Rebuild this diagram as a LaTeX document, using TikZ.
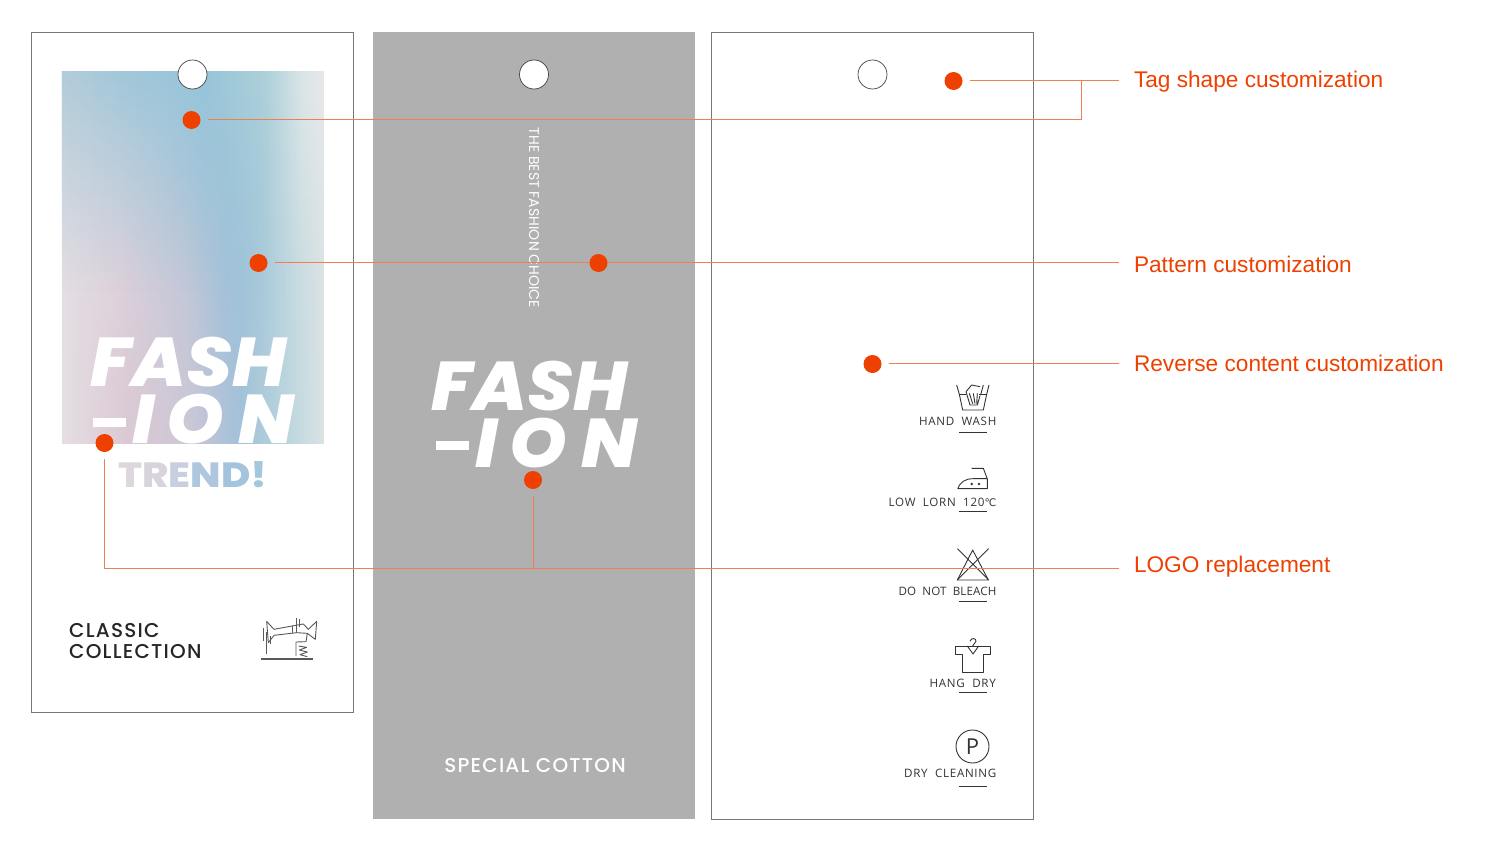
\documentclass[tikz,border=0pt]{standalone}
\usepackage{fontspec}
\usepackage{tikz}
\usetikzlibrary{fadings}
\setmainfont{Liberation Sans}
\newfontfamily\logofont{Poppins}
\newfontfamily\mediumfont{Poppins Medium}
\newfontfamily\heavyfont[ItalicFont={Poppins ExtraBold Italic},FakeStretch=1.06]{Poppins ExtraBold}
\newfontfamily\trendfont[FakeStretch=1.14]{Poppins ExtraBold}
\newfontfamily\careFont{Open Sans}
\newfontfamily\symbolFont{DejaVu Sans}
\definecolor{dotred}{HTML}{EE4000}
\definecolor{lineorange}{HTML}{EE7F55}
\definecolor{taggray}{HTML}{B0B0B0}
\definecolor{tagedge}{HTML}{777777}
\definecolor{inkgray}{HTML}{333333}
\pgfdeclarehorizontalshading{gradTop}{100bp}{rgb(0bp)=(0.70,0.80,0.85);rgb(25bp)=(0.70,0.80,0.85);rgb(37bp)=(0.63,0.78,0.85);rgb(52bp)=(0.59,0.77,0.85);rgb(64bp)=(0.68,0.82,0.85);rgb(71bp)=(0.86,0.90,0.91);rgb(75bp)=(0.91,0.91,0.92);rgb(100bp)=(0.91,0.91,0.92)}
\pgfdeclarehorizontalshading{gradMid}{100bp}{rgb(0bp)=(0.89,0.87,0.89);rgb(25bp)=(0.89,0.87,0.89);rgb(36bp)=(0.87,0.85,0.89);rgb(46bp)=(0.74,0.80,0.86);rgb(56bp)=(0.59,0.75,0.85);rgb(63bp)=(0.64,0.78,0.85);rgb(70bp)=(0.80,0.87,0.89);rgb(75bp)=(0.86,0.89,0.90);rgb(100bp)=(0.86,0.89,0.90)}
\pgfdeclarehorizontalshading{gradLow}{100bp}{rgb(0bp)=(0.90,0.87,0.89);rgb(25bp)=(0.90,0.87,0.89);rgb(37bp)=(0.86,0.79,0.83);rgb(49bp)=(0.81,0.78,0.84);rgb(59bp)=(0.64,0.76,0.85);rgb(67bp)=(0.72,0.83,0.87);rgb(75bp)=(0.85,0.89,0.89);rgb(100bp)=(0.85,0.89,0.89)}
\tikzfading[name=fadeTop, top color=transparent!0, bottom color=transparent!100]
\tikzfading[name=fadeMid, top color=transparent!0, middle color=transparent!0, bottom color=transparent!100]
\tikzset{
  tagbox/.style={draw=tagedge, line width=0.9pt, fill=white, anchor=north west, inner sep=0pt},
  holemark/.style={circle, draw=black!75, line width=0.7pt, fill=white, minimum size=29pt, inner sep=0pt},
  dotmark/.style={circle, fill=dotred, minimum size=18pt, inner sep=0pt, outer sep=7pt},
  leader/.style={draw=lineorange, line width=1pt},
  calllabel/.style={anchor=west, text=dotred, inner sep=0pt, outer xsep=0pt, inner xsep=15pt, font=\fontsize{22.65}{26}\selectfont},
  logotext/.style={text=white, inner sep=0pt, anchor=base west, font=\fontsize{69}{70}\selectfont\heavyfont\itshape},
  caretext/.style={anchor=base east, inner sep=0pt, text=inkgray, font=\fontsize{11.6}{14}\selectfont\careFont\addfontfeatures{LetterSpace=6}},
  iconline/.style={draw=inkgray, line width=0.9pt, line join=round},
  careunder/.style={draw=inkgray, line width=1pt},
}
\begin{document}
\begin{tikzpicture}[x=1pt, y=-1pt]
\useasboundingbox (0,0) rectangle (1488,846);
% tags
\node[tagbox, minimum width=322pt, minimum height=680pt] (tagFront) at (31,32) {};
\node[tagbox, draw=none, fill=taggray, minimum width=322pt, minimum height=787pt] (tagMiddle) at (373,32) {};
\node[tagbox, minimum width=322pt, minimum height=787pt] (tagBack) at (711,32) {};
% gradient panel
\path[shading=gradLow] (62,71) rectangle (323.5,443);
\path[shading=gradMid, path fading=fadeMid, fit fading=true] (62,71) rectangle (323.5,443);
\path[shading=gradTop, path fading=fadeTop, fit fading=true] (62,71) rectangle (323.5,290);
% holes
\node[holemark] (holeFront) at (192.5,74.5) {};
\node[holemark] (holeMiddle) at (534,74.5) {};
\node[holemark] (holeBack) at (872.5,74.5) {};
% front
\node[logotext] (fashFront) at (90,386.5) {FASH};
\node[logotext] (ionFront) at (93,443.5) {\rule[17pt]{33pt}{9pt}\hspace{6pt}I\hspace{12pt}O\hspace{14pt}N};
\node[inner sep=0pt, anchor=base west, font=\fontsize{35}{40}\selectfont\trendfont] (trendFront) at (118,487)
  {\addfontfeatures{LetterSpace=3}\textcolor[HTML]{DDD6DC}{T}\textcolor[HTML]{D8D4DE}{R}\textcolor[HTML]{C8D0DF}{E}\textcolor[HTML]{AFC7DE}{N}\textcolor[HTML]{A4C3DD}{D}\textcolor[HTML]{A3C7DC}{!}};
\node[anchor=west, inner sep=0pt, align=left, text=black!85, font=\fontsize{20}{21.8}\selectfont\mediumfont\addfontfeatures{LetterSpace=6}] (classicFront) at (69,641) {CLASSIC\\COLLECTION};
% sewing machine
\begin{scope}[shift={(50,600)}, scale=1/3]
\draw[iconline, draw=black!65] (650,64) -- (672,88) -- (726,78) -- (760,72) -- (775,88) -- (800,64) -- (796,118) -- (772,100) -- (740,98) -- (672,106) -- (655,128) -- cycle;
\draw[iconline, draw=black!65] (640,84) -- (640,122) (650,96) -- (650,162) (660,108) -- (660,132) (726,78) -- (726,98) (740,55) -- (740,98) (748,58) -- (748,82);
\draw[iconline, draw=black!65] (772,100) -- (768,125) -- (738,126) -- (738,168) (746,138) -- (770,142) -- (748,150) -- (772,156) -- (750,164) -- (772,170);
\draw[iconline, draw=black!65, line width=1.5pt] (632,177) -- (790,177);
\end{scope}
% middle
\node[rotate=-90, text=white, inner sep=0pt, font=\fontsize{14.1}{15}\selectfont\logofont] (sloganMiddle) at (534,218) {THE BEST FASHION CHOICE};
\node[logotext] (fashMiddle) at (431,410) {FASH};
\node[logotext] (ionMiddle) at (436,467) {\rule[17pt]{33pt}{9pt}\hspace{6pt}I\hspace{12pt}O\hspace{14pt}N};
\node[text=white, inner sep=0pt, font=\fontsize{20}{22}\selectfont\mediumfont\addfontfeatures{LetterSpace=6}] (cottonMiddle) at (535,765.5) {SPECIAL COTTON};
% back
\node[caretext] (handBack) at (996.5,425.5) {HAND\ \ WASH};
\node[caretext] (lowBack) at (996.5,506) {LOW\ \ LORN\ \ 120{\symbolFont\addfontfeatures{LetterSpace=0}\fontsize{10.5}{10}\selectfont ℃}};
\node[caretext] (bleachBack) at (996.5,595.5) {\addfontfeatures{LetterSpace=1}DO\ \ NOT\ \ BLEACH};
\node[caretext] (hangBack) at (996,687) {HANG\ \ DRY};
\node[caretext] (dryBack) at (996.5,777.5) {DRY\ \ CLEANING};
\coordinate (underA) at (959,432); \coordinate (underAe) at (987,432);
\coordinate (underB) at (959,511.5); \coordinate (underBe) at (987,511.5);
\coordinate (underC) at (959,601); \coordinate (underCe) at (987,601);
\coordinate (underD) at (959,692); \coordinate (underDe) at (987,692);
\coordinate (underE) at (959,786); \coordinate (underEe) at (987,786);
\foreach \a/\b in {underA/underAe,underB/underBe,underC/underCe,underD/underDe,underE/underEe}
  \draw[careunder] (\a) -- (\b);
% care icons
\begin{scope}[shift={(880,375)}, scale=1/3]
\draw[iconline] (230,30) -- (238,58) -- (248,105) -- (310,105) -- (320,58) -- (327,30);
\draw[iconline] (238,58) -- (258,58) (298,58) -- (320,58);
\draw[iconline] (258,50) -- (275,30) -- (300,35) (258,50) -- (270,90) -- (292,90) -- (300,62) (268,55) -- (278,86) (280,55) -- (285,86) (292,55) -- (290,86) (310,30) -- (302,60);
\draw[iconline] (233,341) -- (322,341) -- (322,312) -- (310,280) -- (275,280) (233,341) .. controls (240,322) and (255,311) .. (280,311) -- (322,311);
\fill[inkgray] (275,327) circle (4) (297,327) circle (4);
\draw[iconline] (278,525) -- (232,615) -- (325,615) -- cycle;
\draw[iconline] (232,521) -- (326,615) (326,521) -- (232,615);
\end{scope}
\begin{scope}[shift={(880,630)}, scale=1/3]
\draw[iconline] (225,48) -- (330,48) -- (330,73) -- (310,73) -- (310,128) -- (247,128) -- (247,73) -- (225,73) -- cycle;
\draw[iconline] (262,48) -- (279,72) -- (296,48) (270,34) .. controls (272,22) and (290,24) .. (288,34) -- (278,48);
\end{scope}
\node[circle, draw=inkgray, line width=0.9pt, minimum size=33pt, inner sep=0pt, text=inkgray, font=\fontsize{22}{24}\selectfont\careFont] (pressBack) at (972.5,746.5) {P};
% callout dots
\node[dotmark] (dotHole) at (953.5,81) {};
\node[dotmark] (dotShape) at (191.5,120) {};
\node[dotmark] (dotPatternA) at (258.5,263) {};
\node[dotmark] (dotReverse) at (872.5,364) {};
\node[dotmark] (dotLogoA) at (104.5,443) {};
\node[dotmark] (dotLogoB) at (533,480) {};
% labels
\node[calllabel] (lblTag) at (1119,82) {Tag shape customization};
\node[calllabel] (lblPattern) at (1119,264.5) {Pattern customization};
\node[calllabel] (lblReverse) at (1119,363) {Reverse content customization};
\node[calllabel] (lblLogo) at (1119,566.5) {LOGO replacement};
\coordinate (endTag) at (1119,80.5);
\coordinate (endPattern) at (1119,262.5);
\coordinate (endReverse) at (1119,363.5);
\coordinate (endLogo) at (1119,568.5);
\coordinate (kneeShape) at (1081.5,119.5);
\coordinate (kneeTag) at (1081.5,80.5);
\coordinate (kneeLogoA) at (104.5,568.5);
\coordinate (kneeLogoB) at (533.5,568.5);
% connectors
\draw[leader] (970,80.5) -- (endTag);
\draw[leader] (dotShape.east |- kneeShape) -- (kneeShape) -- (kneeTag);
\draw[leader] (dotPatternA.east |- endPattern) -- (endPattern);
\draw[leader] (dotReverse.east |- endReverse) -- (endReverse);
\draw[leader] (dotLogoA.south -| kneeLogoA) -- (kneeLogoA) -- (endLogo);
\draw[leader] (dotLogoB.south -| kneeLogoB) -- (kneeLogoB);
\node[dotmark] (dotPattern) at (598.5,263) {};
\end{tikzpicture}
\end{document}
